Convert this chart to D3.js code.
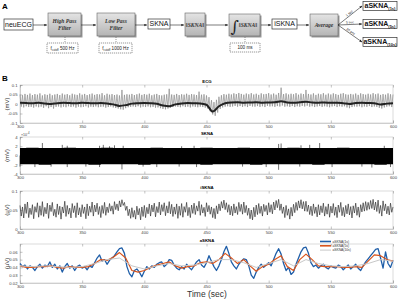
<!DOCTYPE html>
<html><head><meta charset="utf-8">
<script src="https://cdn.jsdelivr.net/npm/d3@7"></script>
<style>body{margin:0;background:#fff}svg{display:block;font-family:Arial,"Liberation Sans",sans-serif}</style>
</head><body><svg id="c" width="400" height="299"></svg>
<script>
// ---------- data ----------
const timeStart = 300;               // seconds
const xTicks = [300,350,400,450,500,550,600];
const ecgTicks = [-0.1,-0.05,0,0.05,0.1];
const ecgTickLabels = ["-0.1","-0.05","0","0.05","0.1"];
const sknaTicks = [-4,-2,0,2,4];
const sknaTickLabels = ["-4","-2","0","2","4"];
const isknaTicks = [0,0.05,0.1];
const isknaTickLabels = ["0","0.05","0.1"];
const asknaTicks = [0.02,0.03,0.04,0.05,0.06];
const asknaTickLabels = ["0.02","0.03","0.04","0.05","0.06"];

// ECG (mV), one sample per second, peak/trough alternating
const ecg = [
 .050,-.014,.046,-.018,.053,-.012,.048,-.016,.055,-.015,
 .047,-.019,.052,-.013,.049,-.017,.056,-.014,.045,-.020,
 .051,-.012,.048,-.022,.054,-.016,.046,-.024,.050,-.015,
 .053,-.013,.047,-.018,.055,-.014,.049,-.017,.052,-.012,
 .046,-.016,.054,-.013,.050,-.019,.048,-.014,.056,-.017,
 .049,-.015,.053,-.012,.047,-.018,.051,-.014,.055,-.016,
 .048,-.013,.052,-.017,.050,-.015,.057,-.014,.046,-.019,
 .054,-.016,.049,-.013,.052,-.018,.047,-.021,.050,-.024,
 .045,-.028,.074,-.030,.048,-.022,.051,-.017,.049,-.015,
 .053,-.013,.047,-.016,.051,-.012,.055,-.018,.048,-.014,
 .052,-.016,.049,-.013,.054,-.017,.046,-.015,.050,-.019,
 .053,-.018,.047,-.022,.045,-.026,.049,-.028,.051,-.024,
 .080,-.020,.050,-.016,.048,-.013,.053,-.015,.047,-.017,
 .051,-.012,.049,-.016,.054,-.014,.048,-.018,.052,-.013,
 .050,-.015,.047,-.017,.065,-.014,.049,-.016,.051,-.019,
 .045,-.024,.036,-.038,.020,-.055,.010,-.062,.022,-.045,
 .038,-.026,.046,-.018,.052,-.014,.049,-.012,.054,-.015,
 .050,-.013,.056,-.010,.052,-.014,.058,-.011,.053,-.015,
 .049,-.012,.055,-.016,.051,-.010,.057,-.013,.050,-.014,
 .054,-.011,.048,-.015,.056,-.012,.051,-.016,.053,-.010,
 .057,-.013,.050,-.012,.055,-.015,.049,-.011,.058,-.013,
 .086,-.008,.052,-.014,.056,-.012,.050,-.015,.054,-.011,
 .051,-.016,.057,-.012,.049,-.014,.055,-.010,.052,-.013,
 .074,-.009,.053,-.014,.050,-.012,.056,-.016,.048,-.013,
 .054,-.011,.051,-.015,.057,-.012,.049,-.014,.055,-.017,
 .050,-.013,.056,-.011,.052,-.016,.048,-.012,.054,-.014,
 .057,-.012,.051,-.018,.049,-.022,.053,-.016,.050,-.013,
 .055,-.014,.048,-.012,.056,-.017,.052,-.013,.049,-.015,
 .054,-.011,.050,-.016,.057,-.013,.051,-.015,.055,-.020,
 .048,-.024,.052,-.018,.049,-.014,.056,-.012,.051,-.016,
 .050];
// ECG baseline (mV), every 5 s
const ecgBase = [.006,.005,.004,.006,.003,.000,.004,.006,.005,.004,.006,.005,.004,.005,.003,-.002,
 -.010,-.006,.002,.004,.005,.004,.001,-.008,-.012,-.002,.003,.005,.004,.003,-.004,-.040,-.012,
 .004,.008,.009,.007,.008,.009,.007,.008,.009,.015,.008,.007,.009,.012,.008,.007,.008,.006,.007,
 .004,.000,.005,.006,.005,.004,-.003,.002,.004];

// SKNA (x1e-4 mV) band envelope, every 10 s
const sknaHi = [1.6,1.7,1.6,1.6,1.7,1.6,1.6,1.7,1.6,1.6,1.6,1.7,1.6,1.6,1.6,1.7,1.6,1.6,1.7,1.6,1.6,1.6,1.7,1.6,1.6,1.6,1.7,1.6,1.6,1.6,1.6];
const sknaLo = [-1.9,-1.9,-2.0,-1.9,-1.9,-1.9,-2.0,-1.9,-1.9,-1.9,-2.0,-1.9,-1.9,-1.9,-1.9,-2.0,-1.9,-1.9,-1.9,-2.0,-1.9,-1.9,-1.9,-1.9,-2.0,-1.9,-1.9,-1.9,-1.9,-2.0,-1.9];
const sknaSpikeT = [318,334,338,364,367,372,376,383,430,440,508,510,526,533,541,593,
                    300,312,325,338,353,364,382,399,410,428,442,479,498,508,525,551,575,583,598];
const sknaSpikeV = [2.7,2.3,2.1,2.1,2.3,2.0,2.2,2.1,2.0,2.1,2.5,2.6,2.2,2.3,2.7,2.1,
                    -2.4,-2.5,-2.4,-2.5,-2.4,-2.5,-3.0,-2.4,-2.5,-2.4,-2.5,-2.4,-2.5,-3.1,-2.4,-2.5,-2.4,-2.6,-2.5];

// iSKNA (µV), one sample per second
const iskna = [
 .062,.034,.058,.029,.066,.041,.071,.030,.055,.038,
 .064,.027,.059,.044,.069,.031,.061,.036,.072,.033,
 .057,.040,.068,.028,.063,.046,.070,.035,.052,.031,
 .066,.038,.060,.026,.058,.042,.073,.033,.062,.039,
 .055,.029,.067,.043,.061,.030,.069,.037,.056,.032,
 .064,.041,.058,.027,.066,.035,.060,.044,.071,.034,
 .063,.045,.068,.038,.059,.030,.062,.041,.070,.036,
 .058,.043,.067,.047,.061,.039,.072,.051,.066,.048,
 .074,.058,.077,.062,.070,.049,.060,.035,.052,.028,
 .056,.031,.049,.026,.060,.037,.054,.024,.058,.033,
 .062,.030,.057,.040,.066,.034,.063,.045,.068,.032,
 .059,.043,.071,.037,.064,.046,.069,.035,.061,.042,
 .072,.040,.065,.033,.058,.039,.066,.028,.060,.036,
 .067,.031,.059,.044,.070,.035,.057,.030,.063,.041,
 .068,.038,.061,.047,.073,.036,.064,.042,.057,.033,
 .069,.045,.062,.039,.058,.030,.054,.027,.061,.040,
 .066,.048,.072,.055,.076,.051,.069,.044,.064,.037,
 .060,.035,.066,.042,.059,.038,.070,.046,.065,.039,
 .071,.043,.062,.036,.055,.027,.050,.024,.057,.032,
 .063,.038,.067,.041,.060,.034,.065,.046,.062,.037,
 .069,.044,.064,.040,.071,.050,.075,.056,.078,.049,
 .066,.041,.058,.030,.062,.036,.053,.026,.057,.034,
 .065,.043,.070,.049,.074,.055,.077,.053,.072,.047,
 .073,.046,.063,.038,.060,.035,.066,.041,.058,.032,
 .064,.037,.061,.043,.068,.034,.059,.039,.066,.031,
 .060,.042,.067,.036,.058,.030,.063,.044,.070,.035,
 .057,.032,.062,.040,.066,.037,.059,.029,.061,.042,
 .068,.036,.058,.031,.064,.045,.069,.047,.072,.049,
 .070,.052,.075,.054,.078,.050,.071,.046,.076,.041,
 .062,.034,.074,.048,.066,.040,.060,.037,.068,.044,
 .058];

// aSKNA (µV): 1 s window (every 2 s), 5 s window (every 5 s), 10 s window (every 10 s)
const askna1 = [
 .045,.041,.043,.038,.042,.040,.036,.041,.044,.039,.043,.041,.047,.040,.044,.038,.042,.034,.041,.045,
 .039,.042,.036,.041,.043,.039,.041,.037,.042,.040,.046,.052,.056,.048,.050,.044,.049,.052,.055,.060,
 .064,.065,.058,.041,.032,.028,.036,.038,.034,.028,.035,.041,.038,.042,.040,.044,.046,.047,.041,.044,
 .050,.049,.043,.039,.037,.041,.038,.044,.040,.037,.042,.047,.050,.043,.040,.046,.055,.048,.041,.036,
 .042,.050,.060,.067,.058,.047,.042,.038,.044,.048,.051,.050,.042,.030,.026,.034,.040,.044,.040,.043,
 .046,.042,.050,.058,.064,.057,.045,.036,.040,.031,.034,.044,.052,.060,.065,.066,.058,.046,.041,.043,
 .039,.042,.044,.040,.038,.042,.040,.039,.043,.041,.037,.040,.043,.038,.041,.044,.039,.036,.042,.047,
 .051,.055,.059,.063,.064,.052,.039,.060,.045,.040,.049];
const askna5 = [.042,.040,.040,.041,.041,.042,.040,.039,.041,.040,.040,.041,.045,.050,.049,.053,.059,.052,
 .036,.034,.036,.040,.043,.045,.047,.042,.039,.041,.042,.046,.047,.045,.050,.058,.052,.045,.050,.042,.035,
 .041,.044,.050,.055,.041,.036,.050,.057,.050,.042,.041,.041,.041,.040,.040,.041,.040,.048,.056,.055,.050,.048];
const askna10 = [.042,.041,.042,.041,.040,.041,.045,.050,.052,.042,.038,.042,.045,.042,.043,.046,.050,.050,
 .046,.040,.045,.050,.042,.050,.045,.042,.041,.042,.045,.050,.048];
const legendLabels = ["aSKNA(1s)","aSKNA(5s)","aSKNA(10s)"];
const seriesColors = ["#1f5ea8","#d9541c","#c8c8c8"];

// ---------- drawing ----------
const svg = d3.select("#c");
svg.append("rect").attr("width",400).attr("height",299).attr("fill","#fff");
const defs = svg.append("defs");
const grad = defs.append("linearGradient").attr("id","g").attr("x1",0).attr("y1",0).attr("x2",0).attr("y2",1);
grad.append("stop").attr("offset","0").attr("stop-color","#e4e4e4");
grad.append("stop").attr("offset","1").attr("stop-color","#b4b4b4");
defs.append("marker").attr("id","ar").attr("viewBox","0 0 10 10").attr("refX",9).attr("refY",5)
  .attr("markerWidth",5).attr("markerHeight",5).attr("orient","auto")
  .append("path").attr("d","M0,1L10,5L0,9Z").attr("fill","#222");

// ---- Panel A: flow chart ----
const A = svg.append("g");
A.append("text").attr("x",2).attr("y",9).attr("font-size",8).attr("font-weight","bold").attr("fill","#000").text("A");
function plainBox(x,y,w,h,label,sub){
  A.append("rect").attr("x",x).attr("y",y).attr("width",w).attr("height",h)
   .attr("fill","#fff").attr("stroke","#333").attr("stroke-width",0.7);
  const t = A.append("text").attr("x",x+w/2).attr("y",y+h/2+2.4).attr("text-anchor","middle")
   .attr("font-size",7).attr("fill","#111").attr("font-weight", sub? "bold":"normal").text(label);
  if(sub) t.append("tspan").attr("font-size",4).attr("dy",1.5).text(sub);
}
function greyBox(x,y,w,h,lines,dx){
  A.append("rect").attr("x",x+1.5).attr("y",y+1.5).attr("width",w).attr("height",h).attr("fill","#9a9a9a");
  A.append("rect").attr("x",x).attr("y",y).attr("width",w).attr("height",h)
   .attr("fill","url(#g)").attr("stroke","#666").attr("stroke-width",0.6);
  lines.forEach((l,i)=>{
    A.append("text").attr("x",x+w/2+(dx||0)).attr("y",y+h/2+2 + (i-(lines.length-1)/2)*7.5)
     .attr("text-anchor","middle").attr("font-size",5.6).attr("font-style","italic").attr("font-weight","bold")
     .attr("font-family","'Liberation Serif','DejaVu Serif',serif").attr("fill","#333").text(l);
  });
}
function dashBox(x,y,w,h,cx,pre,sub,post){
  A.append("line").attr("x1",cx).attr("x2",cx).attr("y1",37).attr("y2",y).attr("stroke","#555")
   .attr("stroke-width",0.6).attr("stroke-dasharray","1,1");
  A.append("rect").attr("x",x).attr("y",y).attr("width",w).attr("height",h).attr("fill","#fff")
   .attr("stroke","#555").attr("stroke-width",0.6).attr("stroke-dasharray","1.2,0.8");
  const t = A.append("text").attr("x",x+w/2).attr("y",y+h/2+1.6).attr("text-anchor","middle")
   .attr("font-size",4.6).attr("fill","#222").text(pre);
  if(sub){ t.append("tspan").attr("font-size",2.8).attr("dy",1).text(sub);
           t.append("tspan").attr("dy",-1).text(post); }
}
function arrow(x1,y1,x2,y2){
  A.append("line").attr("x1",x1).attr("y1",y1).attr("x2",x2).attr("y2",y2)
   .attr("stroke","#222").attr("stroke-width",0.6).attr("marker-end","url(#ar)");
}
plainBox(4,19,29,11,"neuECG");
arrow(33,25,47,25);
greyBox(48,13,33,23,["High Pass","Filter"]);
dashBox(47,43,31,10,65,"f","cutoff"," 500 Hz");
arrow(81,25,96,25);
greyBox(97,13,38,23,["Low Pass","Filter"]);
dashBox(99,43,33,10,116,"f","cutoff"," 1000 Hz");
arrow(135,25,147,25);
plainBox(148,19,22,10,"SKNA");
arrow(170,25,184,25);
greyBox(185,13,20,23,["‖SKNA‖"]);
arrow(206,25,228,25);
greyBox(229,14,31,22,["‖SKNA‖"],3.5);
A.append("text").attr("x",230.5).attr("y",31.5).attr("font-size",16).attr("font-family","'DejaVu Serif',serif")
  .attr("fill","#222").text("∫");
dashBox(230,43,30,9,245,"100 ms");
arrow(261,25,271,25);
plainBox(272,19,25,10,"iSKNA");
arrow(297,25,309,25);
greyBox(310,14,28,22,["Average"]);
const outY = [6,24,42];
const outSub = ["(1s)","(5s)","(10s)"];
const outLab = ["1 sec","5 sec","10 sec"];
outY.forEach((y,i)=>{
  arrow(338,25,362,y);
  plainBox(363,y-4.5,34,9,"aSKNA",outSub[i]);
  const ang = Math.atan2(y-25,24)*180/Math.PI;
  A.append("text").attr("transform",`translate(${350},${(25+y)/2-1.2}) rotate(${ang})`)
   .attr("text-anchor","middle").attr("font-size",3.4).attr("fill","#222").text(outLab[i]);
});

// ---- Panel B ----
svg.append("text").attr("x",2).attr("y",81).attr("font-size",8).attr("font-weight","bold").attr("fill","#000").text("B");
const x = d3.scaleLinear().domain([300,600]).range([20,393]);
function panel(top,bottom,domain,ticks,labels,title,unit){
  const y = d3.scaleLinear().domain(domain).range([bottom,top]);
  const g = svg.append("g");
  g.append("rect").attr("x",x.range()[0]).attr("y",top).attr("width",x.range()[1]-x.range()[0])
   .attr("height",bottom-top).attr("fill","none").attr("stroke","#c4c4c4").attr("stroke-width",0.6);
  const ax = d3.axisBottom(x).tickValues(xTicks).tickSize(-2.5).tickPadding(2.5).tickFormat(d3.format("d"));
  const gx = g.append("g").attr("transform",`translate(0,${bottom})`).call(ax);
  const ay = d3.axisLeft(y).tickValues(ticks).tickSize(-2.5).tickPadding(2.5).tickFormat((d,i)=>labels[i]);
  const gy = g.append("g").attr("transform",`translate(${x.range()[0]},0)`).call(ay);
  [gx,gy].forEach(a=>{
    a.select(".domain").attr("stroke","#b8b8b8").attr("stroke-width",0.6);
    a.selectAll(".tick line").attr("stroke","#888").attr("stroke-width",0.5);
    a.selectAll(".tick text").attr("font-size",4.2).attr("fill","#444").attr("font-family","Arial,'Liberation Sans',sans-serif");
  });
  const tx = d3.axisTop(x).tickValues(xTicks).tickSize(-2.5).tickFormat("");
  g.append("g").attr("transform",`translate(0,${top})`).call(tx)
   .call(a=>{a.select(".domain").remove(); a.selectAll(".tick line").attr("stroke","#888").attr("stroke-width",0.5);});
  svg.append("text").attr("x",207).attr("y",top-2.5).attr("text-anchor","middle").attr("font-size",4.3)
   .attr("font-weight","bold").attr("fill","#000").text(title);
  svg.append("text").attr("transform",`translate(8.5,${(top+bottom)/2}) rotate(-90)`).attr("text-anchor","middle")
   .attr("font-size",6).attr("fill","#333").text(unit);
  return y;
}
const T = (i,step)=>timeStart+i*step;

// ECG
const yE = panel(85,123,[-0.1,0.1],ecgTicks,ecgTickLabels,"ECG","(mV)");
svg.append("path").datum(ecg).attr("fill","none").attr("stroke","#8c8c8c").attr("stroke-width",0.7)
  .attr("d",d3.line().x((d,i)=>x(T(i,1))).y(d=>yE(d)));
svg.append("path").datum(ecgBase).attr("fill","none").attr("stroke","#222").attr("stroke-width",2)
  .attr("d",d3.line().x((d,i)=>x(T(i,5))).y(d=>yE(d)).curve(d3.curveMonotoneX));

// SKNA
const yS = panel(137,174,[-4,4],sknaTicks,sknaTickLabels,"SKNA","(mV)");
svg.append("text").attr("x",21).attr("y",135.5).attr("font-size",3.6).attr("fill","#444")
  .text("×10").append("tspan").attr("dy",-1.3).attr("font-size",2.8).text("-4");
svg.append("g").selectAll("line").data(sknaSpikeT).join("line")
  .attr("x1",d=>x(d)).attr("x2",d=>x(d)).attr("y1",yS(0)).attr("y2",(d,i)=>yS(sknaSpikeV[i]))
  .attr("stroke","#111").attr("stroke-width",0.6);
svg.append("path").datum(sknaHi).attr("fill","#000")
  .attr("d",d3.area().x((d,i)=>x(T(i,10))).y0((d,i)=>yS(sknaLo[i])).y1(d=>yS(d)).curve(d3.curveStep));

// iSKNA
const yI = panel(191,229,[0,0.1],isknaTicks,isknaTickLabels,"iSKNA","(µV)");
svg.append("path").datum(iskna).attr("fill","none").attr("stroke","#333").attr("stroke-width",0.7)
  .attr("d",d3.line().x((d,i)=>x(T(i,1))).y(d=>yI(d)));

// aSKNA
const yA = panel(244,283,[0.02,0.07],asknaTicks,asknaTickLabels,"aSKNA","(µV)");
[[askna1,2,1.3],[askna5,5,1.2],[askna10,10,1.0]].forEach(([arr,step,w],k)=>{
  svg.append("path").datum(arr).attr("fill","none").attr("stroke",seriesColors[k]).attr("stroke-width",w)
    .attr("stroke-linejoin","round")
    .attr("d",d3.line().x((d,i)=>x(T(i,step))).y(d=>yA(d)));
});
const lg = svg.append("g").attr("transform","translate(320,241.5)");
legendLabels.forEach((l,i)=>{
  lg.append("line").attr("x1",0).attr("x2",11).attr("y1",i*4.3).attr("y2",i*4.3)
    .attr("stroke",seriesColors[i]).attr("stroke-width",i==2?1:1.6);
  lg.append("text").attr("x",12.5).attr("y",i*4.3+1.2).attr("font-size",3.3).attr("fill","#333").text(l);
});
svg.append("text").attr("x",207).attr("y",297).attr("text-anchor","middle").attr("font-size",8.5)
  .attr("fill","#333").text("Time (sec)");
</script></body></html>
